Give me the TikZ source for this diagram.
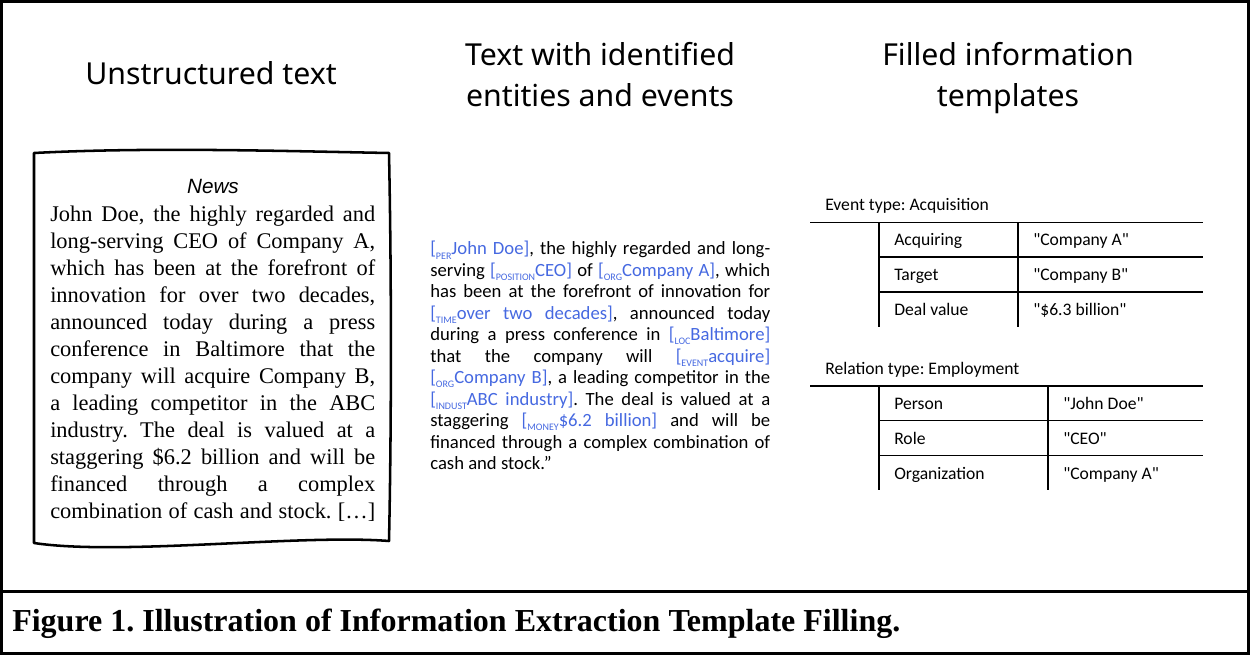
\documentclass[tikz,border=0pt]{standalone}
\usepackage{fontspec}
\setmainfont{Liberation Serif}
\newfontfamily\headfont{Noto Sans}
\newfontfamily\calfont{Carlito}
\newfontfamily\arialfont{Liberation Sans}
\definecolor{tagblue}{RGB}{70,105,225}
\newcommand{\tg}[2]{\textcolor{tagblue}{[\raisebox{-0.45ex}{\fontsize{7.5}{7.5}\selectfont #1}#2]}}
\frenchspacing
\begin{document}
\begin{tikzpicture}[x=0.75pt,y=-0.75pt,
  head/.style={font=\headfont\fontsize{22.7}{30.75}\selectfont, align=center, inner sep=0pt},
  tbl/.style={font=\calfont\fontsize{13.2}{15}\selectfont, inner sep=0pt, anchor=base west},
  tline/.style={line width=1.2pt},
  frame/.style={line width=2.25pt}]
\useasboundingbox (0,0) rectangle (1250,655);
\fill[white] (0,0) rectangle (1250,655);
\draw[frame] (1.5,1.5) rectangle (1248.5,653.5);
\coordinate (sepL) at (0,591.5);
\coordinate (sepR) at (1250,591.5);
\draw[frame] (sepL) -- (sepR);
% headings
\node[head, anchor=base] (h1) at (211,85) {Unstructured text};
\node[head, anchor=base] (h2) at (600,107) {Text with identified\\entities and events};
\node[head, anchor=base] (h3) at (1008,107) {Filled information\\templates};
% news box
\draw[line width=1.9pt, line join=round] (34,153) .. controls (150,147) and (280,151) .. (389,153)
  .. controls (392,300) and (391,450) .. (389,541)
  .. controls (300,534) and (120,556) .. (34,543) -- cycle;
\node[inner sep=0pt, anchor=base, font=\arialfont\itshape\fontsize{15.5}{18}\selectfont] (newst) at (213,194) {News};
\node[inner sep=0pt, anchor=base west] (news) at (50,222) {\parbox[t]{243.75pt}{\fontsize{16.8}{20.2}\selectfont
John Doe, the highly regarded and\linebreak
long-serving CEO of Company A,\linebreak
which has been at the forefront of\linebreak
innovation for over two decades,\linebreak
announced today during a press\linebreak
conference in Baltimore that the\linebreak
company will acquire Company B,\linebreak
a leading competitor in the ABC\linebreak
industry. The deal is valued at a\linebreak
staggering \$6.2 billion and will be\linebreak
financed through a complex\linebreak
\makebox[\linewidth][s]{combination of cash and stock. […]}}};
% tagged text
\node[inner sep=0pt, anchor=base west] (tagged) at (430,255) {\parbox[t]{255pt}{\calfont\fontsize{14}{16.1}\selectfont
\tg{PER}{John Doe}, the highly regarded and long-\linebreak
serving \tg{POSITION}{CEO} of \tg{ORG}{Company A}, which\linebreak
has been at the forefront of innovation for\linebreak
\tg{TIME}{over two decades}, announced today\linebreak
during a press conference in \tg{LOC}{Baltimore}\linebreak
that the company will \tg{EVENT}{acquire}\linebreak
\tg{ORG}{Company B}, a leading competitor in the\linebreak
\tg{INDUST}{ABC industry}. The deal is valued at a\linebreak
staggering \tg{MONEY}{\$6.2 billion} and will be\linebreak
financed through a complex combination of\linebreak
cash and stock.”}};
% event table
\node[tbl] (evt) at (825,211) {Event type: Acquisition};
\coordinate (e0l) at (810,222.5); \coordinate (e0r) at (1203,222.5);
\coordinate (e1l) at (879,257); \coordinate (e1r) at (1203,257);
\coordinate (e2l) at (879,292); \coordinate (e2r) at (1203,292);
\coordinate (ev1t) at (879,222.5); \coordinate (ev1b) at (879,327);
\coordinate (ev2t) at (1018,222.5); \coordinate (ev2b) at (1018,327);
\draw[tline] (e0l) -- (e0r);
\draw[tline] (e1l) -- (e1r);
\draw[tline] (e2l) -- (e2r);
\draw[tline] (ev1t) -- (ev1b);
\draw[tline] (ev2t) -- (ev2b);
\node[tbl] (ea) at (894,246) {Acquiring};
\node[tbl] (eav) at (1033,246) {"Company A"};
\node[tbl] (et) at (894,281) {Target};
\node[tbl] (etv) at (1033,281) {"Company B"};
\node[tbl] (ed) at (894,316) {Deal value};
\node[tbl] (edv) at (1033,316) {"\$6.3 billion"};
% relation table
\node[tbl] (rel) at (825,375) {Relation type: Employment};
\coordinate (r0l) at (810,386); \coordinate (r0r) at (1203,386);
\coordinate (r1l) at (879,420.5); \coordinate (r1r) at (1203,420.5);
\coordinate (r2l) at (879,455.5); \coordinate (r2r) at (1203,455.5);
\coordinate (rv1t) at (879,386); \coordinate (rv1b) at (879,490.5);
\coordinate (rv2t) at (1048,386); \coordinate (rv2b) at (1048,490.5);
\draw[tline] (r0l) -- (r0r);
\draw[tline] (r1l) -- (r1r);
\draw[tline] (r2l) -- (r2r);
\draw[tline] (rv1t) -- (rv1b);
\draw[tline] (rv2t) -- (rv2b);
\node[tbl] (rp) at (894,410) {Person};
\node[tbl] (rpv) at (1063,410) {"John Doe"};
\node[tbl] (rr) at (894,445) {Role};
\node[tbl] (rrv) at (1063,445) {"CEO"};
\node[tbl] (ro) at (894,480) {Organization};
\node[tbl] (rov) at (1063,480) {"Company A"};
% caption
\node[inner sep=0pt, anchor=base west, font=\bfseries\fontsize{24}{28}\selectfont] (cap) at (12,632) {Figure 1. Illustration of Information Extraction Template Filling.};
\end{tikzpicture}
\end{document}
